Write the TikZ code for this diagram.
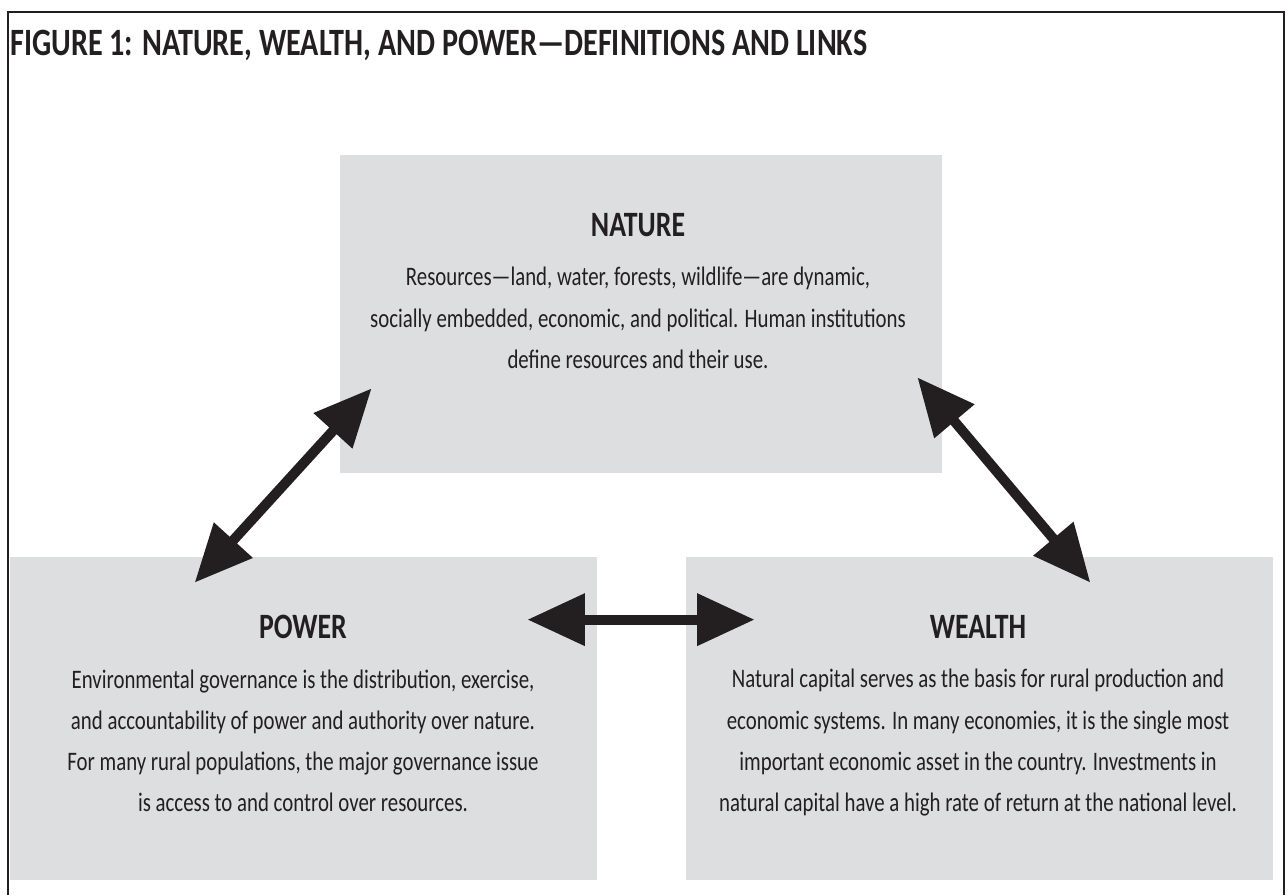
\documentclass[tikz,border=0pt]{standalone}
\usepackage{fontspec}
\setmainfont{Carlito}[FakeStretch=0.78]
\usetikzlibrary{arrows.meta,positioning}
\definecolor{boxgray}{RGB}{221,222,224}
\definecolor{ink}{RGB}{35,31,32}

\begin{document}
\begin{tikzpicture}[
    box/.style={fill=boxgray, inner sep=0pt},
    head/.style={font=\fontsize{20.3}{22}\selectfont\bfseries, text=ink, inner sep=0pt},
    body/.style={font=\fontsize{15.2}{23.5}\selectfont, text=ink, align=center, inner sep=0pt},
    link/.style={{Triangle[length=1.15cm,width=1cm]}-{Triangle[length=1.15cm,width=1cm]}, line width=0.2cm, draw=ink}
]
    \useasboundingbox (0,0) rectangle (25.76,17.9);

    % Frame and title
    \draw[line width=1.2pt, ink] (0.16,0) -- (0.16,17.66) -- (25.68,17.66) -- (25.68,0);
    \node[anchor=west, font=\fontsize{22}{24}\selectfont\bfseries, text=ink, inner sep=0pt] (title) at (0.2,17.0)
        {FIGURE 1: NATURE, WEALTH, AND POWER---DEFINITIONS AND LINKS};

    % Nature
    \node[box, minimum width=12.04cm, minimum height=6.36cm] (nature) at (12.82,11.62) {};
    \node[head] (naturehead) at (12.76,13.4) {NATURE};
    \node[body, below=0.6cm of naturehead] (naturetext) {Resources---land, water, forests, wildlife---are dynamic,\\
        socially embedded, economic, and political. Human institutions\\
        define resources and their use.};

    % Power
    \node[box, minimum width=11.74cm, minimum height=6.46cm] (power) at (6.07,3.53) {};
    \node[head] (powerhead) at (6.06,5.36) {POWER};
    \node[body, below=0.6cm of powerhead] (powertext) {Environmental governance is the distribution, exercise,\\
        and accountability of power and authority over nature.\\
        For many rural populations, the major governance issue\\
        is access to and control over resources.};

    % Wealth
    \node[box, minimum width=11.74cm, minimum height=6.46cm] (wealth) at (19.59,3.53) {};
    \node[head] (wealthhead) at (19.56,5.36) {WEALTH};
    \node[body, below=0.6cm of wealthhead] (wealthtext) {Natural capital serves as the basis for rural production and\\
        economic systems. In many economies, it is the single most\\
        important economic asset in the country. Investments in\\
        natural capital have a high rate of return at the national level.};

    % Links
    \draw[link] ([shift={(0.64,1.7)}]nature.south west) -- ([shift={(3.7,-0.52)}]power.north west);
    \draw[link] ([shift={(-0.5,1.92)}]nature.south east) -- ([shift={(-3.66,-0.52)}]wealth.north east);
    \draw[link] ([shift={(-1.4,-1.26)}]power.north east) -- ([shift={(1.38,-1.26)}]wealth.north west);
\end{tikzpicture}
\end{document}
